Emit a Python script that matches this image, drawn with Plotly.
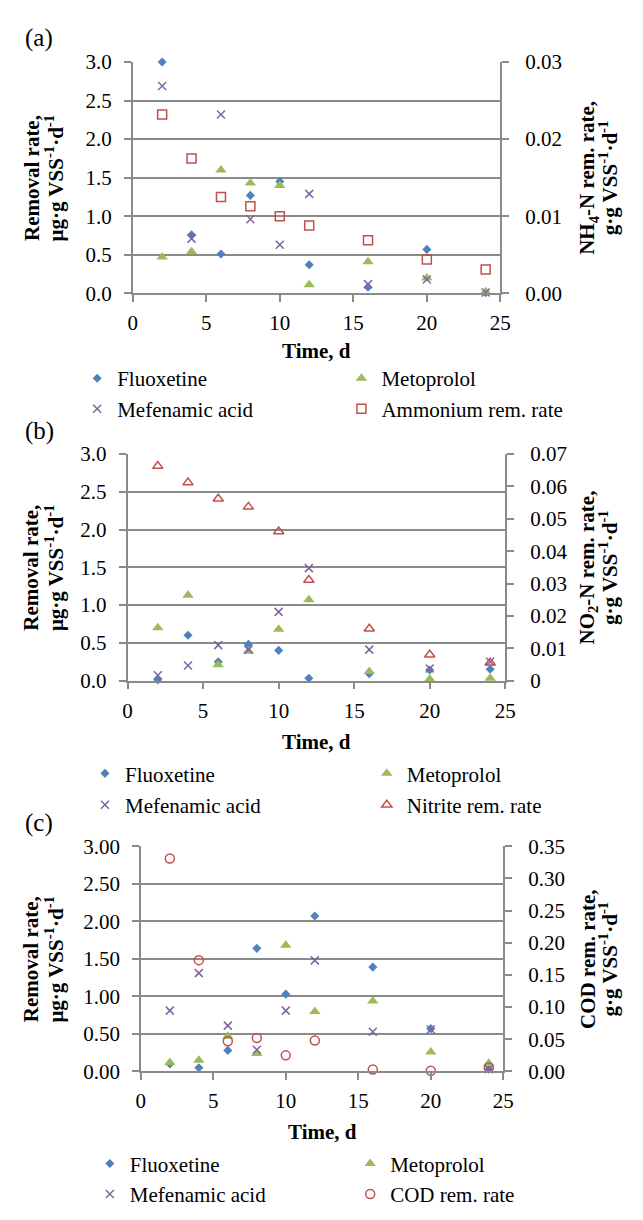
import plotly.graph_objects as go

W, H = 643, 1220

# ---------------- data ----------------
days = [2, 4, 6, 8, 10, 12, 16, 20, 24]

# Panel (a)
a_fluoxetine = [3.00, 0.76, 0.51, 1.27, 1.45, 0.37, 0.08, 0.57, 0.01]
a_metoprolol = [0.47, 0.54, 1.60, 1.43, 1.40, 0.11, 0.41, 0.20, 0.02]
a_mefenamic = [2.69, 0.71, 2.32, 0.96, 0.63, 1.29, 0.12, 0.18, 0.01]
a_ammonium = [0.0232, 0.0175, 0.0125, 0.0113, 0.0100, 0.0088, 0.0069, 0.0044, 0.0031]

# Panel (b)
b_fluoxetine = [0.01, 0.60, 0.25, 0.48, 0.40, 0.03, 0.09, 0.14, 0.15]
b_metoprolol = [0.70, 1.13, 0.21, 0.39, 0.68, 1.07, 0.12, 0.02, 0.03]
b_mefenamic = [0.07, 0.20, 0.47, 0.41, 0.91, 1.49, 0.41, 0.16, 0.25]
b_nitrite = [0.0663, 0.0612, 0.0562, 0.0537, 0.0461, 0.0311, 0.0160, 0.0080, 0.0055]

# Panel (c)
c_fluoxetine = [0.10, 0.05, 0.28, 1.64, 1.03, 2.07, 1.39, 0.57, 0.03]
c_metoprolol = [0.12, 0.15, 0.47, 0.24, 1.68, 0.80, 0.94, 0.26, 0.11]
c_mefenamic = [0.81, 1.31, 0.61, 0.29, 0.81, 1.48, 0.53, 0.56, 0.03]
c_cod = [0.331, 0.173, 0.047, 0.052, 0.025, 0.048, 0.003, 0.001, 0.006]

series_names_a = ["Fluoxetine", "Metoprolol", "Mefenamic acid", "Ammonium rem. rate"]
series_names_b = ["Fluoxetine", "Metoprolol", "Mefenamic acid", "Nitrite rem. rate"]
series_names_c = ["Fluoxetine", "Metoprolol", "Mefenamic acid", "COD rem. rate"]

# tick labels
x_tick_vals = [0, 5, 10, 15, 20, 25]
x_tick_text = ["0", "5", "10", "15", "20", "25"]
left_tick_vals = [0, 0.5, 1.0, 1.5, 2.0, 2.5, 3.0]
left_tick_text_ab = ["0.0", "0.5", "1.0", "1.5", "2.0", "2.5", "3.0"]
left_tick_text_c = ["0.00", "0.50", "1.00", "1.50", "2.00", "2.50", "3.00"]
a_right_vals = [0, 0.01, 0.02, 0.03]
a_right_text = ["0.00", "0.01", "0.02", "0.03"]
b_right_vals = [0, 0.01, 0.02, 0.03, 0.04, 0.05, 0.06, 0.07]
b_right_text = ["0", "0.01", "0.02", "0.03", "0.04", "0.05", "0.06", "0.07"]
c_right_vals = [0, 0.05, 0.10, 0.15, 0.20, 0.25, 0.30, 0.35]
c_right_text = ["0.00", "0.05", "0.10", "0.15", "0.20", "0.25", "0.30", "0.35"]

# ---------------- style ----------------
BLUE, GREEN, PURPLE, RED = "#4F81BD", "#9BBB59", "#8064A2", "#C0504D"
GRID = "#8a8a8a"
FONT = "Liberation Serif"
TICK_SIZE = 21
TITLE_SIZE = 21
LEG_SIZE = 21


def fx(p):
    return p / W


def fy(p):
    return 1 - p / H


panels = [
    dict(label="(a)", label_y=27, left=131, right=508, top=51, bottom=287,
         series=[a_fluoxetine, a_metoprolol, a_mefenamic, a_ammonium], names=series_names_a,
         left_text=left_tick_text_ab, rmax=0.03, rvals=a_right_vals, rtext=a_right_text,
         rtitle="NH<sub>4</sub>-N rem. rate,", top_grid=True, time_y=346,
         leg_rows=[374, 405], leg_text=[117, 388]),
    dict(label="(b)", label_y=427, left=125.7, right=513, top=451, bottom=682,
         series=[b_fluoxetine, b_metoprolol, b_mefenamic, b_nitrite], names=series_names_b,
         left_text=left_tick_text_ab, rmax=0.07, rvals=b_right_vals, rtext=b_right_text,
         rtitle="NO<sub>2</sub>-N rem. rate,", top_grid=False, time_y=745,
         leg_rows=[777, 809], leg_text=[125, 414]),
    dict(label="(c)", label_y=827, left=139.3, right=511, top=851, bottom=1080.7,
         series=[c_fluoxetine, c_metoprolol, c_mefenamic, c_cod], names=series_names_c,
         left_text=left_tick_text_c, rmax=0.35, rvals=c_right_vals, rtext=c_right_text,
         rtitle="COD rem. rate,", top_grid=False, time_y=1142,
         leg_rows=[1175, 1206], leg_text=[130, 397]),
]

markers = [
    dict(symbol="diamond", size=7, color=BLUE),
    dict(symbol="triangle-up", size=10, color=GREEN),
    dict(symbol="x-thin", size=8, color=PURPLE, line=dict(color=PURPLE, width=1.5)),
]
right_symbols = ["square-open", "triangle-up-open", "circle-open"]

fig = go.Figure()
layout = dict(
    width=W, height=H, margin=dict(l=0, r=0, t=0, b=0),
    paper_bgcolor="white", plot_bgcolor="white",
    font=dict(family=FONT, size=TICK_SIZE, color="black"),
    showlegend=True,
)
annotations = []

for i, p in enumerate(panels):
    xn = "x" if i == 0 else f"x{i + 1}"
    yl = "y" if i == 0 else f"y{2 * i + 1}"
    yr = f"y{2 * i + 2}"
    xkey = "xaxis" if i == 0 else f"xaxis{i + 1}"
    ylkey = "yaxis" if i == 0 else f"yaxis{2 * i + 1}"
    yrkey = f"yaxis{2 * i + 2}"

    common_tick = dict(ticks="outside", ticklen=7, tickwidth=1.5, tickcolor=GRID,
                       showline=True, linecolor=GRID, linewidth=1.5, zeroline=False,
                       tickfont=dict(family=FONT, size=TICK_SIZE, color="black"))

    layout[xkey] = dict(domain=[fx(p["left"]), fx(p["right"])], range=[0, 25],
                        tickvals=x_tick_vals, ticktext=x_tick_text, showgrid=False,
                        anchor=yl, ticklabelstandoff=3, **common_tick)
    yleft = dict(domain=[fy(p["bottom"]), fy(p["top"])], range=[0, 3],
                 tickvals=left_tick_vals, ticktext=p["left_text"], anchor=xn,
                 ticklabelstandoff=8, **common_tick)
    if p["top_grid"]:
        yleft.update(showgrid=True, gridcolor=GRID, gridwidth=1.5)
    else:
        yleft.update(showgrid=False,
                     minor=dict(tickvals=left_tick_vals[1:-1], showgrid=True,
                                gridcolor=GRID, gridwidth=1.5, ticks=""))
    layout[ylkey] = yleft
    layout[yrkey] = dict(overlaying=yl, side="right", anchor=xn, range=[0, p["rmax"]],
                         tickvals=p["rvals"], ticktext=p["rtext"], showgrid=False,
                         ticklabelstandoff=12, **common_tick)

    for j in range(4):
        n = i * 4 + j + 1
        lname = "legend" if n == 1 else f"legend{n}"
        if j < 3:
            mk = dict(markers[j])
            yaxis = yl
        else:
            mk = dict(symbol=right_symbols[i], size=9, color=RED,
                      line=dict(color=RED, width=1.5))
            yaxis = yr
        fig.add_trace(go.Scatter(
            x=days, y=p["series"][j], mode="markers", name=p["names"][j],
            marker=mk, xaxis=xn, yaxis=yaxis, legend=lname, cliponaxis=False,
        ))
        col = j % 2
        row = j // 2
        layout[lname] = dict(
            x=fx(p["leg_text"][col] - 43), y=fy(p["leg_rows"][row]),
            xanchor="left", yanchor="middle", bgcolor="rgba(0,0,0,0)",
            borderwidth=0, font=dict(family=FONT, size=LEG_SIZE, color="black"),
        )

    cy = (p["top"] + p["bottom"]) / 2
    cx = (p["left"] + p["right"]) / 2
    annotations += [
        dict(text=p["label"], x=fx(35), y=fy(p["label_y"]), xref="paper", yref="paper",
             showarrow=False, xanchor="center", yanchor="middle",
             font=dict(family=FONT, size=25, color="black")),
        dict(text="<b>Time, d</b>", x=fx(cx), y=fy(p["time_y"]), xref="paper", yref="paper",
             showarrow=False, xanchor="center", yanchor="middle",
             font=dict(family=FONT, size=TITLE_SIZE, color="black")),
        dict(text="<b>Removal rate,</b>", x=fx(27), y=fy(cy), xref="paper", yref="paper",
             showarrow=False, xanchor="center", yanchor="middle", textangle=-90,
             font=dict(family=FONT, size=TITLE_SIZE, color="black")),
        dict(text="<b>μg·g VSS<sup>-1</sup>·d<sup>-1</sup></b>", x=fx(51), y=fy(cy),
             xref="paper", yref="paper", showarrow=False, xanchor="center", yanchor="middle",
             textangle=-90, font=dict(family=FONT, size=TITLE_SIZE, color="black")),
        dict(text="<b>" + p["rtitle"] + "</b>", x=fx(598), y=fy(cy), xref="paper", yref="paper",
             showarrow=False, xanchor="center", yanchor="middle", textangle=-90,
             font=dict(family=FONT, size=TITLE_SIZE, color="black")),
        dict(text="<b>g·g VSS<sup>-1</sup>·d<sup>-1</sup></b>", x=fx(619), y=fy(cy),
             xref="paper", yref="paper", showarrow=False, xanchor="center", yanchor="middle",
             textangle=-90, font=dict(family=FONT, size=TITLE_SIZE, color="black")),
    ]

layout["annotations"] = annotations
fig.update_layout(**layout)
fig.write_html("out.html", config={"displayModeBar": False},
               post_script="document.body.style.margin='0px';")
